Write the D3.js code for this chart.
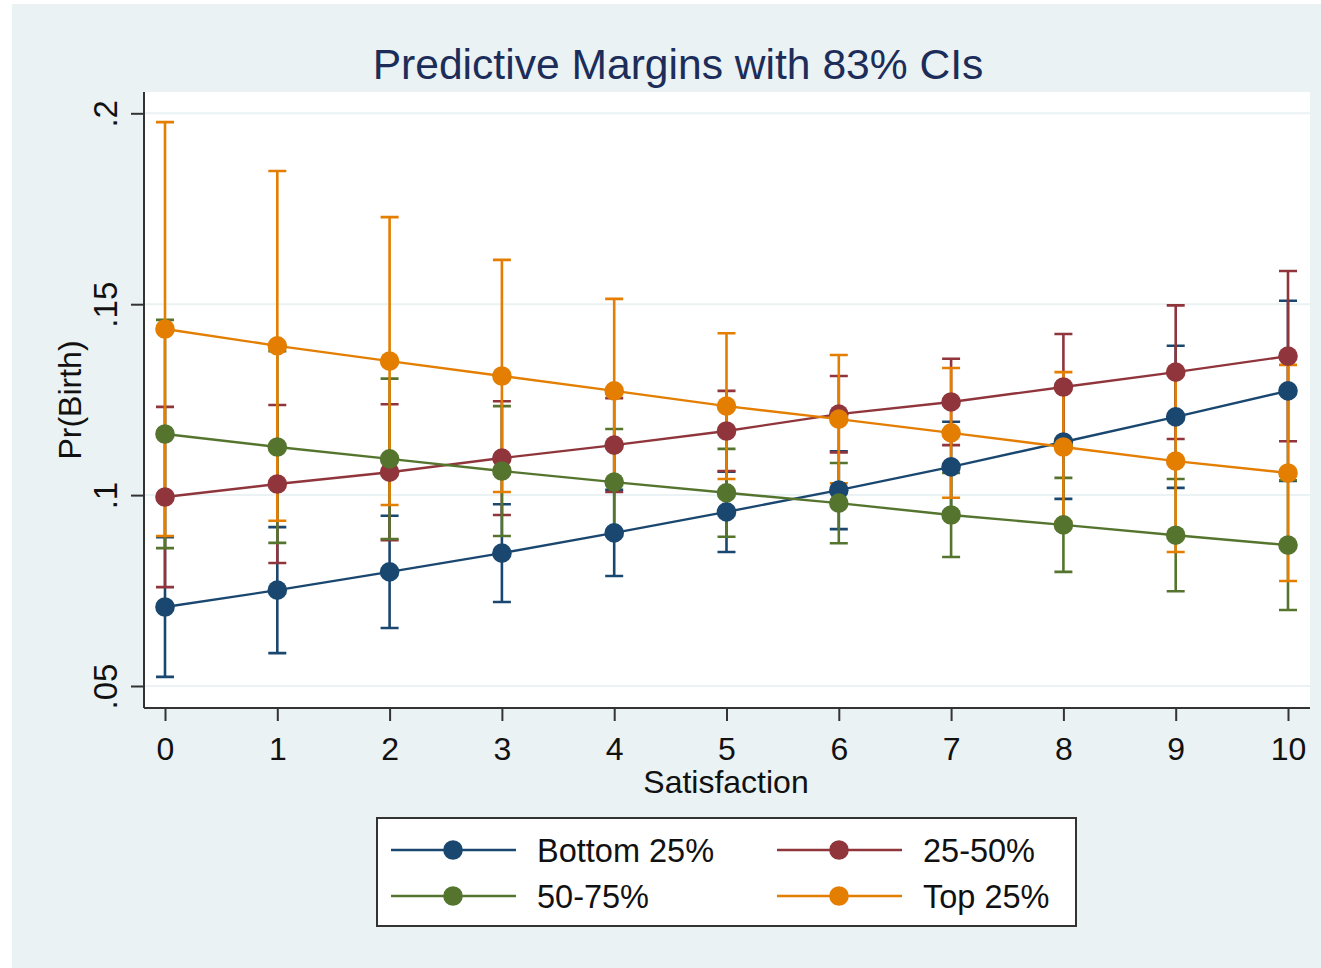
<!DOCTYPE html>
<html>
<head>
<meta charset="utf-8">
<script src="https://cdn.jsdelivr.net/npm/d3@7"></script>
<style>
  body { margin: 0; background: #fff; }
  svg text { font-family: "Liberation Sans", Arial, sans-serif; }
</style>
</head>
<body>
<div class="chart"></div>
<script>
"use strict";

// Satisfaction levels on the x axis
const satisfaction = [0, 1, 2, 3, 4, 5, 6, 7, 8, 9, 10];
const yTicks = [0.05, 0.1, 0.15, 0.2];
const yTickLabels = [".05", ".1", ".15", ".2"];

// Predictive margins and 83% CI bounds
const bottomMargin = [0.0707, 0.0751, 0.0799, 0.0848, 0.0901, 0.0956, 0.1013, 0.1074, 0.1139, 0.1205, 0.1273];
const bottomLower  = [0.0524, 0.0586, 0.0652, 0.0720, 0.0788, 0.0851, 0.0911, 0.0956, 0.0990, 0.1019, 0.1037];
const bottomUpper  = [0.0890, 0.0916, 0.0946, 0.0976, 0.1014, 0.1061, 0.1115, 0.1192, 0.1288, 0.1391, 0.1509];

const secondMargin = [0.0995, 0.1029, 0.1060, 0.1097, 0.1131, 0.1168, 0.1212, 0.1244, 0.1283, 0.1322, 0.1364];
const secondLower  = [0.0759, 0.0822, 0.0882, 0.0948, 0.1008, 0.1063, 0.1112, 0.1131, 0.1144, 0.1147, 0.1141];
const secondUpper  = [0.1231, 0.1236, 0.1238, 0.1246, 0.1254, 0.1273, 0.1312, 0.1357, 0.1422, 0.1497, 0.1587];

const thirdMargin = [0.1160, 0.1126, 0.1095, 0.1063, 0.1034, 0.1006, 0.0979, 0.0948, 0.0922, 0.0895, 0.0869];
const thirdLower  = [0.0861, 0.0875, 0.0885, 0.0893, 0.0895, 0.0891, 0.0874, 0.0838, 0.0799, 0.0748, 0.0699];
const thirdUpper  = [0.1459, 0.1377, 0.1305, 0.1233, 0.1173, 0.1121, 0.1084, 0.1058, 0.1045, 0.1042, 0.1039];

const topMargin = [0.1435, 0.1391, 0.1351, 0.1312, 0.1273, 0.1233, 0.1199, 0.1163, 0.1126, 0.1089, 0.1058];
const topLower  = [0.0893, 0.0933, 0.0974, 0.1008, 0.1032, 0.1042, 0.1031, 0.0993, 0.0930, 0.0851, 0.0775];
const topUpper  = [0.1977, 0.1849, 0.1728, 0.1616, 0.1514, 0.1424, 0.1367, 0.1333, 0.1322, 0.1327, 0.1341];

const seriesNames = ["Bottom 25%", "25-50%", "50-75%", "Top 25%"];
const seriesColors = ["#1a476f", "#90353b", "#55752f", "#e37e00"];

const series = [
  { margin: bottomMargin, lower: bottomLower, upper: bottomUpper },
  { margin: secondMargin, lower: secondLower, upper: secondUpper },
  { margin: thirdMargin, lower: thirdLower, upper: thirdUpper },
  { margin: topMargin, lower: topLower, upper: topUpper }
].map((s, i) => ({
  name: seriesNames[i],
  color: seriesColors[i],
  points: satisfaction.map((x, j) => ({ x, y: s.margin[j], lo: s.lower[j], hi: s.upper[j] }))
}));

const width = 1321;
const height = 968;

const svg = d3.select(".chart")
  .append("svg")
    .attr("width", width)
    .attr("height", height);

// Graph region background
svg.append("rect")
  .attr("x", 12)
  .attr("y", 4)
  .attr("width", width - 12)
  .attr("height", height - 4)
  .attr("fill", "#eaf2f3");

// Plot region
const plot = { left: 144, right: 1310, top: 92, bottom: 708 };

svg.append("rect")
  .attr("x", plot.left)
  .attr("y", plot.top)
  .attr("width", plot.right - plot.left)
  .attr("height", plot.bottom - plot.top)
  .attr("fill", "#fff");

const xScale = d3.scaleLinear()
  .domain([0, 10])
  .range([165, 1288]);

const yScale = d3.scaleLinear()
  .domain([0.05, 0.2])
  .range([686, 113.3]);

// Gridlines
svg.append("g")
  .selectAll("line")
  .data(yTicks)
  .join("line")
    .attr("x1", plot.left)
    .attr("x2", plot.right)
    .attr("y1", d => yScale(d))
    .attr("y2", d => yScale(d))
    .attr("stroke", "#eaf2f3")
    .attr("stroke-width", 2);

// Axes
const yAxis = d3.axisLeft(yScale)
  .tickValues(yTicks)
  .tickFormat((d, i) => yTickLabels[i])
  .tickSize(13)
  .tickSizeOuter(0);

const yAxisG = svg.append("g")
  .attr("transform", `translate(${plot.left}, 0)`)
  .call(yAxis);

yAxisG.select(".domain")
  .attr("d", `M0,${plot.top}V${plot.bottom}`)
  .attr("stroke", "#333")
  .attr("stroke-width", 2);

yAxisG.selectAll(".tick line")
  .attr("stroke", "#333")
  .attr("stroke-width", 2);

yAxisG.selectAll(".tick text")
  .attr("x", null)
  .attr("dy", null)
  .attr("transform", "translate(-27, 0) rotate(-90)")
  .attr("text-anchor", "middle")
  .attr("font-size", 33)
  .attr("fill", "#111");

const xAxis = d3.axisBottom(xScale)
  .tickValues(satisfaction)
  .tickFormat(d3.format("d"))
  .tickSize(13)
  .tickSizeOuter(0);

const xAxisG = svg.append("g")
  .attr("transform", `translate(0, ${plot.bottom})`)
  .call(xAxis);

xAxisG.select(".domain")
  .attr("d", `M${plot.left},0H${plot.right}`)
  .attr("stroke", "#333")
  .attr("stroke-width", 2);

xAxisG.selectAll(".tick line")
  .attr("stroke", "#333")
  .attr("stroke-width", 2);

xAxisG.selectAll(".tick text")
  .attr("y", 52)
  .attr("dy", null)
  .attr("font-size", 32)
  .attr("fill", "#111");

// Axis titles
svg.append("text")
  .attr("x", 726)
  .attr("y", 793)
  .attr("text-anchor", "middle")
  .attr("font-size", 32)
  .attr("fill", "#111")
  .text("Satisfaction");

svg.append("text")
  .attr("transform", `translate(81, ${(plot.top + plot.bottom) / 2}) rotate(-90)`)
  .attr("text-anchor", "middle")
  .attr("font-size", 32)
  .attr("fill", "#111")
  .text("Pr(Birth)");

// Title
svg.append("text")
  .attr("x", 678)
  .attr("y", 79)
  .attr("text-anchor", "middle")
  .attr("font-size", 42.6)
  .attr("fill", "#1c2d5a")
  .text("Predictive Margins with 83% CIs");

// Confidence intervals first
const capHalf = 9;

series.forEach(s => {
  const g = svg.append("g")
    .attr("stroke", s.color)
    .attr("stroke-width", 2.6)
    .attr("fill", "none");

  g.selectAll("path")
    .data(s.points)
    .join("path")
      .attr("d", d => {
        const x = xScale(d.x);
        const y0 = yScale(d.lo);
        const y1 = yScale(d.hi);
        return `M${x},${y0}V${y1}M${x - capHalf},${y1}H${x + capHalf}M${x - capHalf},${y0}H${x + capHalf}`;
      });
});

// Lines and markers
const lineGenerator = d3.line()
  .x(d => xScale(d.x))
  .y(d => yScale(d.y));

series.forEach(s => {
  svg.append("path")
    .attr("d", lineGenerator(s.points))
    .attr("fill", "none")
    .attr("stroke", s.color)
    .attr("stroke-width", 2.4);

  svg.append("g")
    .selectAll("circle")
    .data(s.points)
    .join("circle")
      .attr("cx", d => xScale(d.x))
      .attr("cy", d => yScale(d.y))
      .attr("r", 9.8)
      .attr("fill", s.color);
});

// Legend
const legend = svg.append("g");

legend.append("rect")
  .attr("x", 377)
  .attr("y", 818)
  .attr("width", 699)
  .attr("height", 108)
  .attr("fill", "#fff")
  .attr("stroke", "#333")
  .attr("stroke-width", 2);

const legendCols = [391, 777];
const legendRows = [850, 896];

series.forEach((s, i) => {
  const x0 = legendCols[i % 2];
  const y0 = legendRows[Math.floor(i / 2)];
  const item = legend.append("g");

  item.append("line")
    .attr("x1", x0)
    .attr("x2", x0 + 125)
    .attr("y1", y0)
    .attr("y2", y0)
    .attr("stroke", s.color)
    .attr("stroke-width", 2.4);

  item.append("circle")
    .attr("cx", x0 + 62)
    .attr("cy", y0)
    .attr("r", 9.8)
    .attr("fill", s.color);

  item.append("text")
    .attr("x", x0 + 146)
    .attr("y", y0 + 12)
    .attr("font-size", 32.5)
    .attr("fill", "#111")
    .text(s.name);
});
</script>
</body>
</html>
